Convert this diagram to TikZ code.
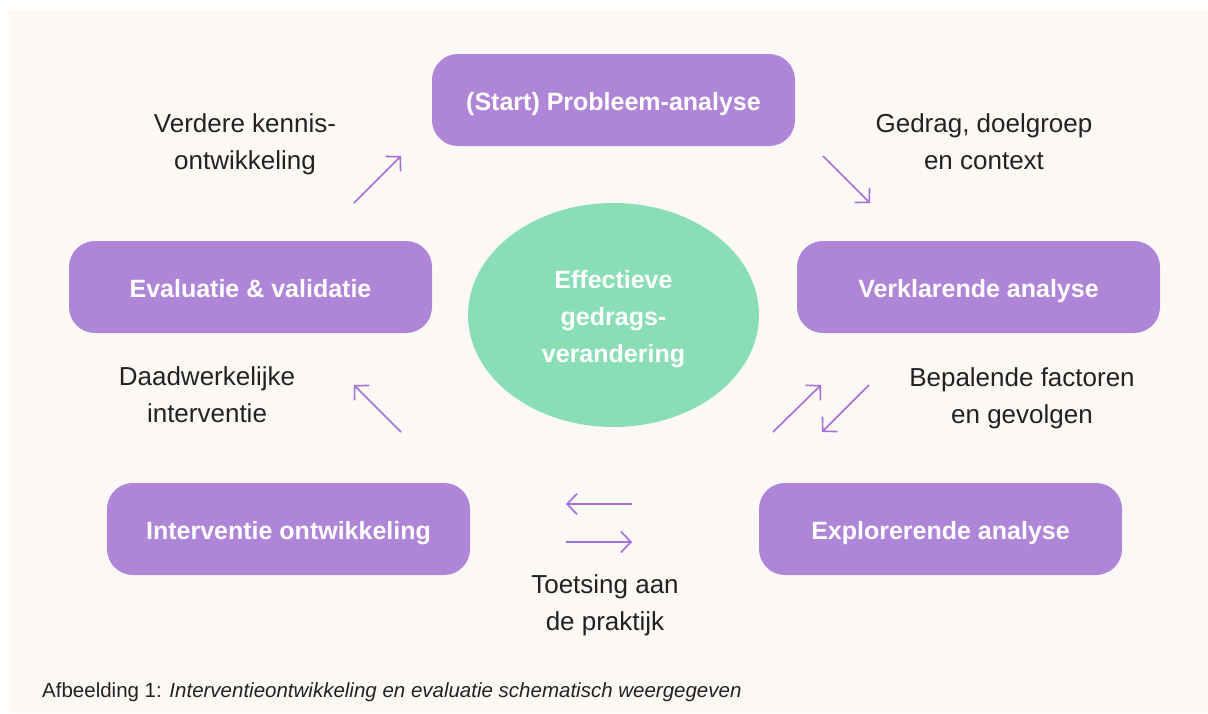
\documentclass[tikz,border=0pt]{standalone}
\usepackage{fontspec}
\setmainfont{Liberation Sans}
\usetikzlibrary{arrows.meta,shapes.geometric}
\definecolor{bgc}{HTML}{FCF8F5}
\definecolor{boxc}{HTML}{AF85D7}
\definecolor{ellc}{HTML}{8ADEB6}
\definecolor{arrc}{HTML}{A36FDA}
\definecolor{txtc}{HTML}{222222}
\tikzset{
  stagebox/.style={draw=none, fill=boxc, rounded corners=26pt, minimum width=363pt, minimum height=92pt, text=white, text height=24pt, text depth=3pt, font=\fontsize{25}{30}\selectfont\bfseries},
  label/.style={text=txtc, align=center, font=\fontsize{26}{37}\selectfont},
  flow/.style={draw=arrc, line width=1.6pt, -{Straight Barb[length=10pt,width=21pt,line width=1.6pt]}}
}
\begin{document}
\begin{tikzpicture}[x=1pt,y=-1pt]
\useasboundingbox (0,0) rectangle (1208,713);
\fill[white] (0,0) rectangle (1208,713);
\fill[bgc] (9,10) rectangle (1208,713);

\node[stagebox] (start) at (613.5,100) {(Start) Probleem-analyse};
\node[stagebox] (eval) at (250.5,287) {Evaluatie \& validatie};
\node[stagebox] (verk) at (978.5,287) {Verklarende analyse};
\node[stagebox] (intv) at (288.5,529) {Interventie ontwikkeling};
\node[stagebox] (expl) at (940.5,529) {Explorerende analyse};

\node[ellipse, fill=ellc, minimum width=291pt, minimum height=224pt, inner sep=0pt] (core) at (613.5,315) {};
\node[text=white, align=center, font=\fontsize{25}{37}\selectfont\bfseries] (coretext) at (613.5,319) {Effectieve\\gedrags-\\verandering};

\node[label] (l1) at (245,144) {Verdere kennis-\\ontwikkeling};
\node[label] (l2) at (984,142) {Gedrag, doelgroep\\en context};
\node[label] (l3) at (207,395) {Daadwerkelijke\\interventie};
\node[label] (l4) at (1022,398) {Bepalende factoren\\en gevolgen};
\node[label] (l5) at (605,605.5) {Toetsing aan\\de praktijk};

\coordinate (a1s) at (354,203); \coordinate (a1e) at (401,156);
\coordinate (a2s) at (823,156); \coordinate (a2e) at (870,203);
\coordinate (a3s) at (773,432); \coordinate (a3e) at (821,385);
\coordinate (a4s) at (869,385); \coordinate (a4e) at (822,432);
\coordinate (a5s) at (632,504); \coordinate (a5e) at (566,504);
\coordinate (a6s) at (566,542); \coordinate (a6e) at (632,542);
\coordinate (a7s) at (401,432); \coordinate (a7e) at (354,385);
\draw[flow] (a1s) -- (a1e);
\draw[flow] (a2s) -- (a2e);
\draw[flow] (a3s) -- (a3e);
\draw[flow] (a4s) -- (a4e);
\draw[flow] (a5s) -- (a5e);
\draw[flow] (a6s) -- (a6e);
\draw[flow] (a7s) -- (a7e);

\node[anchor=base west, text=txtc, font=\fontsize{20.5}{24}\selectfont, inner sep=0pt] (cap) at (42,697) {Afbeelding 1: \textit{Interventieontwikkeling en evaluatie schematisch weergegeven}};
\end{tikzpicture}
\end{document}
